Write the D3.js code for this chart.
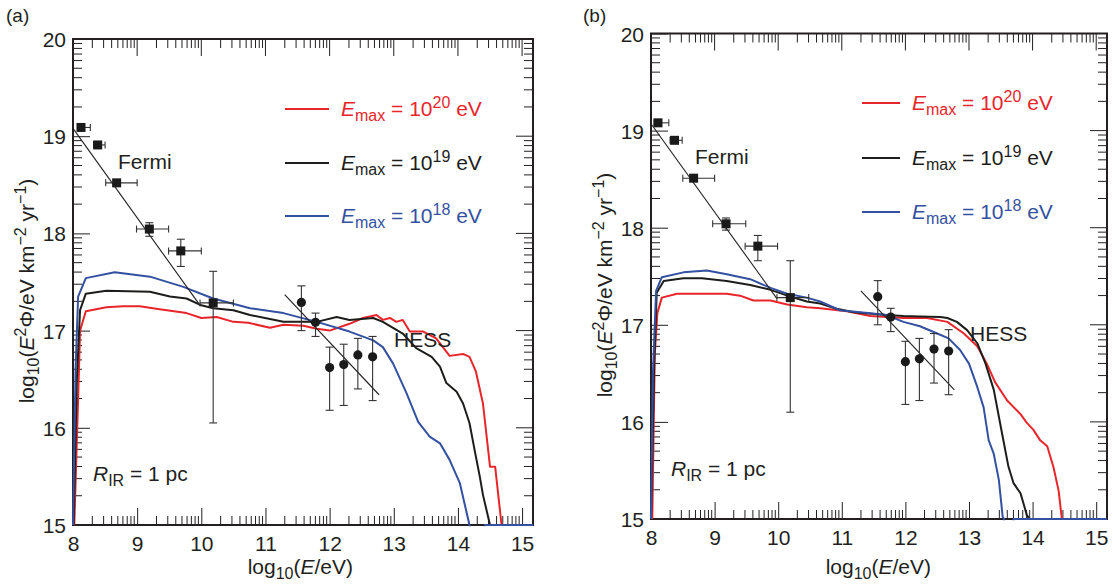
<!DOCTYPE html>
<html>
<head>
<meta charset="utf-8">
<script src="https://cdn.jsdelivr.net/npm/d3@7"></script>
<style>
  html, body { margin: 0; padding: 0; background: #fff; }
  svg text { font-family: "Liberation Sans", Arial, Helvetica, sans-serif; fill: #231f20; }
</style>
</head>
<body>
<svg id="chart" width="1113" height="585"></svg>
<script>
// ---------------- DATA ----------------
const xTicks = [8, 9, 10, 11, 12, 13, 14, 15];
const yTicks = [15, 16, 17, 18, 19, 20];
const xDomain = [8, 15.17];
const yDomain = [15, 20];
const panelLabels = ["(a)", "(b)"];
const legendExponents = ["20", "19", "18"];

// Fermi points: [x, y, xlo, xhi, ylo, yhi]
const fermiA = [
  [8.125, 19.09, 8.07, 8.27, 19.09, 19.09],
  [8.385, 18.91, 8.32, 8.50, 18.91, 18.91],
  [8.68, 18.52, 8.51, 9.00, 18.52, 18.52],
  [9.19, 18.045, 8.99, 9.49, 17.97, 18.11],
  [9.68, 17.82, 9.49, 10.00, 17.66, 17.94],
  [10.185, 17.285, 9.98, 10.50, 16.05, 17.61]
];
const fermiB = [
  [8.11, 19.08, 8.05, 8.28, 19.08, 19.08],
  [8.37, 18.90, 8.30, 8.49, 18.90, 18.90],
  [8.67, 18.51, 8.50, 9.00, 18.51, 18.51],
  [9.18, 18.04, 8.97, 9.49, 17.975, 18.10],
  [9.68, 17.81, 9.48, 9.99, 17.66, 17.92],
  [10.19, 17.28, 9.98, 10.48, 16.10, 17.66]
];
// HESS points: [x, y, ylo, yhi]
const hessA = [
  [11.56, 17.29, 17.00, 17.46],
  [11.78, 17.085, 16.94, 17.18],
  [12.00, 16.62, 16.18, 16.83],
  [12.22, 16.65, 16.23, 16.86],
  [12.44, 16.75, 16.40, 16.92],
  [12.67, 16.73, 16.28, 16.94]
];
const hessB = [
  [11.565, 17.29, 17.00, 17.455],
  [11.77, 17.08, 16.93, 17.17],
  [12.00, 16.62, 16.18, 16.83],
  [12.22, 16.65, 16.22, 16.86],
  [12.45, 16.75, 16.40, 16.91],
  [12.68, 16.73, 16.28, 16.95]
];
// power-law fit lines
const fermiLineA = [[8.0, 19.08], [9.98, 17.26]];
const fermiLineB = [[8.0, 19.07], [9.98, 17.27]];
const hessLineA = [[11.30, 17.37], [12.77, 16.34]];
const hessLineB = [[11.30, 17.35], [12.77, 16.33]];

// model curves panel (a)
const redA = [[8.02,15.0],[8.08,16.3],[8.11,17.0],[8.2,17.2],[8.52,17.24],[8.78,17.25],[9.04,17.25],[9.35,17.22],[9.77,17.18],[10.0,17.13],[10.24,17.14],[10.5,17.09],[10.73,17.08],[11.07,17.03],[11.28,17.06],[11.59,17.05],[11.80,17.02],[12.0,17.0],[12.31,17.07],[12.52,17.13],[12.73,17.16],[12.83,17.11],[12.94,17.13],[13.04,17.09],[13.14,17.11],[13.25,16.99],[13.46,16.99],[13.66,16.92],[13.87,16.74],[14.08,16.76],[14.18,16.73],[14.28,16.58],[14.39,16.25],[14.50,15.60],[14.58,15.60],[14.68,15.0]];
const blackA = [[8.01,15.0],[8.06,16.5],[8.11,17.21],[8.2,17.38],[8.52,17.41],[9.2,17.40],[9.51,17.35],[9.77,17.33],[10.0,17.26],[10.185,17.23],[10.5,17.21],[10.76,17.16],[11.28,17.09],[11.80,17.09],[12.11,17.14],[12.31,17.11],[12.68,17.13],[12.83,17.09],[13.14,16.97],[13.35,16.82],[13.59,16.73],[13.72,16.63],[13.82,16.46],[13.98,16.37],[14.08,16.25],[14.18,16.05],[14.26,15.77],[14.34,15.50],[14.39,15.31],[14.50,15.0]];
const blueA = [[8.0,15.0],[8.04,16.6],[8.08,17.35],[8.2,17.54],[8.65,17.6],[9.2,17.555],[9.72,17.45],[10.185,17.33],[10.76,17.23],[11.28,17.18],[11.80,17.09],[12.31,16.99],[12.68,16.90],[12.83,16.83],[12.99,16.66],[13.20,16.355],[13.38,16.06],[13.56,15.91],[13.72,15.84],[13.87,15.67],[14.03,15.43],[14.18,15.0],[14.30,14.0],[14.42,15.0],[15.17,15.0]];

// model curves panel (b)
const redB = [[8.02,15.0],[8.06,16.7],[8.1,17.12],[8.17,17.28],[8.41,17.32],[8.83,17.32],[9.19,17.32],[9.40,17.30],[9.61,17.25],[9.88,17.25],[10.14,17.21],[10.45,17.18],[10.66,17.17],[11.08,17.14],[11.45,17.09],[11.97,17.07],[12.34,17.07],[12.66,17.03],[12.92,16.91],[13.13,16.78],[13.28,16.60],[13.41,16.41],[13.60,16.22],[13.81,16.08],[13.91,15.99],[14.01,15.92],[14.12,15.81],[14.23,15.75],[14.33,15.53],[14.41,15.29],[14.46,15.0]];
const blackB = [[8.0,15.0],[8.05,16.6],[8.09,17.33],[8.2,17.45],[8.51,17.48],[8.80,17.48],[9.19,17.45],[9.56,17.41],[9.88,17.36],[10.19,17.29],[10.45,17.24],[10.66,17.22],[10.92,17.165],[11.19,17.13],[11.70,17.10],[11.97,17.09],[12.23,17.085],[12.55,17.08],[12.66,17.07],[12.81,17.03],[12.97,16.945],[13.13,16.81],[13.26,16.60],[13.39,16.33],[13.52,15.88],[13.62,15.54],[13.70,15.37],[13.81,15.265],[13.91,15.04],[13.95,15.0]];
const blueB = [[8.0,15.0],[8.03,16.5],[8.08,17.35],[8.17,17.49],[8.51,17.54],[8.88,17.56],[9.19,17.52],[9.56,17.47],[9.88,17.38],[10.14,17.32],[10.45,17.28],[10.66,17.24],[10.97,17.15],[11.45,17.12],[11.70,17.10],[11.97,17.03],[12.23,16.985],[12.50,16.91],[12.68,16.86],[12.86,16.74],[13.0,16.60],[13.13,16.36],[13.23,16.15],[13.31,15.81],[13.39,15.67],[13.47,15.40],[13.53,15.02],[13.55,15.0],[13.62,14.0],[13.70,15.0],[15.17,15.0]];

// ---------------- STYLE / LAYOUT ----------------
const RED = "#e8252b", BLACK = "#1d1d1b", BLUE = "#3451a1", INK = "#231f20";
const FS = 21, SFS = 16;

const panels = [
  { id: "a", left: 73, right: 533, top: 39, bottom: 525,
    fermi: fermiA, hess: hessA, fermiLine: fermiLineA, hessLine: hessLineA,
    curves: [[redA, RED], [blackA, BLACK], [blueA, BLUE]],
    label: [6, 22], legendX: [285, 329, 341], legendY: [109, 163, 216],
    fermiText: [118, 169], hessText: [394, 347], rText: [93, 481],
    yTitle: [27, 291], xTitleEnd: 353 },
  { id: "b", left: 651, right: 1107, top: 33.5, bottom: 519,
    fermi: fermiB, hess: hessB, fermiLine: fermiLineB, hessLine: hessLineB,
    curves: [[redB, RED], [blackB, BLACK], [blueB, BLUE]],
    label: [583, 22], legendX: [862, 900, 912], legendY: [103, 158, 212],
    fermiText: [695, 164], hessText: [970, 341], rText: [671, 476],
    yTitle: [605, 285], xTitleEnd: 931 }
];

const svg = d3.select("#chart");

function minorVals(lo, hi) {
  const out = [];
  for (let n = Math.floor(lo); n < hi; n++) {
    for (let k = 2; k <= 9; k++) {
      const v = n + Math.log10(k);
      if (v > lo && v < hi) out.push(v);
    }
  }
  return out;
}

panels.forEach((p, pi) => {
  const x = d3.scaleLinear().domain(xDomain).range([p.left, p.right]);
  const y = d3.scaleLinear().domain(yDomain).range([p.bottom, p.top]);
  const g = svg.append("g");
  const clipId = "clip" + p.id;
  svg.append("clipPath").attr("id", clipId).append("rect")
    .attr("x", p.left - 1).attr("y", p.top)
    .attr("width", p.right - p.left + 1).attr("height", p.bottom - p.top + 1.2);

  const xMinor = minorVals(xDomain[0], xDomain[1]);
  const yMinor = minorVals(yDomain[0], yDomain[1]);
  const MAJ = 17, MIN = 9;
  const tickG = g.append("g").attr("stroke", INK).attr("stroke-width", 1);

  // Bottom axis (d3 axis, ticks inward)
  const bottomAxis = d3.axisBottom(x).tickValues(xTicks).tickSizeInner(-MAJ).tickSizeOuter(0)
    .tickFormat(d3.format("d"));
  const ba = g.append("g").attr("transform", `translate(0,${p.bottom})`).call(bottomAxis);
  ba.select(".domain").remove();
  ba.selectAll("line").attr("stroke", INK);
  ba.selectAll("text").attr("y", 11).attr("dy", "0.71em").style("font-size", FS + "px")
    .style("font-family", '"Liberation Sans", Arial, sans-serif').attr("fill", INK);

  // Left axis
  const leftAxis = d3.axisLeft(y).tickValues(yTicks).tickSizeInner(-MAJ).tickSizeOuter(0)
    .tickFormat(d3.format("d"));
  const la = g.append("g").attr("transform", `translate(${p.left},0)`).call(leftAxis);
  la.select(".domain").remove();
  la.selectAll("line").attr("stroke", INK);
  la.selectAll("text").attr("x", -7).attr("dy", "0.36em").style("font-size", FS + "px")
    .style("font-family", '"Liberation Sans", Arial, sans-serif').attr("fill", INK);

  // top & right major ticks
  xTicks.filter(v => v > xDomain[0] && v < xDomain[1]).forEach(v => {
    tickG.append("line").attr("x1", x(v)).attr("x2", x(v)).attr("y1", p.top).attr("y2", p.top + MAJ);
  });
  yTicks.filter(v => v > yDomain[0] && v < yDomain[1]).forEach(v => {
    tickG.append("line").attr("y1", y(v)).attr("y2", y(v)).attr("x1", p.right).attr("x2", p.right - MAJ);
  });
  // minor ticks on all four sides
  xMinor.forEach(v => {
    tickG.append("line").attr("x1", x(v)).attr("x2", x(v)).attr("y1", p.bottom).attr("y2", p.bottom - MIN);
    tickG.append("line").attr("x1", x(v)).attr("x2", x(v)).attr("y1", p.top).attr("y2", p.top + MIN);
  });
  yMinor.forEach(v => {
    tickG.append("line").attr("y1", y(v)).attr("y2", y(v)).attr("x1", p.left).attr("x2", p.left + MIN);
    tickG.append("line").attr("y1", y(v)).attr("y2", y(v)).attr("x1", p.right).attr("x2", p.right - MIN);
  });

  // Frame
  g.append("rect").attr("x", p.left).attr("y", p.top)
    .attr("width", p.right - p.left).attr("height", p.bottom - p.top)
    .attr("fill", "none").attr("stroke", INK).attr("stroke-width", 2);

  // Curves (drawn over the frame, as in the original)
  const line = d3.line().x(d => x(d[0])).y(d => y(d[1]));
  const cg = g.append("g").attr("clip-path", `url(#${clipId})`);
  p.curves.forEach(([data, col]) => {
    cg.append("path").datum(data).attr("d", line).attr("fill", "none")
      .attr("stroke", col).attr("stroke-width", 2).attr("stroke-linejoin", "round");
  });

  // Fit lines
  [p.fermiLine, p.hessLine].forEach(d => {
    g.append("path").datum(d).attr("d", line).attr("fill", "none")
      .attr("stroke", INK).attr("stroke-width", 1.1);
  });

  // Error bars
  const eg = g.append("g").attr("stroke", "#333").attr("stroke-width", 1.1).attr("fill", "none");
  const cap = 4, capx = 3.5;
  p.fermi.forEach(d => {
    const [vx, vy, xlo, xhi, ylo, yhi] = d;
    eg.append("line").attr("x1", x(xlo)).attr("x2", x(xhi)).attr("y1", y(vy)).attr("y2", y(vy));
    eg.append("line").attr("x1", x(xlo)).attr("x2", x(xlo)).attr("y1", y(vy) - capx).attr("y2", y(vy) + capx);
    eg.append("line").attr("x1", x(xhi)).attr("x2", x(xhi)).attr("y1", y(vy) - capx).attr("y2", y(vy) + capx);
    if (yhi - ylo > 0.01) {
      eg.append("line").attr("x1", x(vx)).attr("x2", x(vx)).attr("y1", y(ylo)).attr("y2", y(yhi));
      eg.append("line").attr("x1", x(vx) - cap).attr("x2", x(vx) + cap).attr("y1", y(ylo)).attr("y2", y(ylo));
      eg.append("line").attr("x1", x(vx) - cap).attr("x2", x(vx) + cap).attr("y1", y(yhi)).attr("y2", y(yhi));
    }
  });
  p.hess.forEach(d => {
    const [vx, vy, ylo, yhi] = d;
    eg.append("line").attr("x1", x(vx)).attr("x2", x(vx)).attr("y1", y(ylo)).attr("y2", y(yhi));
    eg.append("line").attr("x1", x(vx) - cap).attr("x2", x(vx) + cap).attr("y1", y(ylo)).attr("y2", y(ylo));
    eg.append("line").attr("x1", x(vx) - cap).attr("x2", x(vx) + cap).attr("y1", y(yhi)).attr("y2", y(yhi));
  });
  // Markers
  const S = 9;
  g.append("g").selectAll("rect").data(p.fermi).join("rect")
    .attr("x", d => x(d[0]) - S / 2).attr("y", d => y(d[1]) - S / 2)
    .attr("width", S).attr("height", S).attr("fill", "#1a1a1a");
  g.append("g").selectAll("circle").data(p.hess).join("circle")
    .attr("cx", d => x(d[0])).attr("cy", d => y(d[1])).attr("r", 4.6).attr("fill", "#1a1a1a");

  // Legend
  [RED, BLACK, BLUE].forEach((col, i) => {
    const ly = p.legendY[i];
    g.append("line").attr("x1", p.legendX[0]).attr("x2", p.legendX[1]).attr("y1", ly).attr("y2", ly)
      .attr("stroke", col).attr("stroke-width", 2);
    const t = g.append("text").attr("x", p.legendX[2]).attr("y", ly + 7).style("font-size", FS + "px")
      .style("fill", col);
    t.append("tspan").attr("font-style", "italic").text("E");
    t.append("tspan").attr("dy", 5).style("font-size", SFS + "px").text("max");
    t.append("tspan").attr("dy", -5).text(" = 10");
    t.append("tspan").attr("dy", -8).style("font-size", SFS + "px").text(legendExponents[i]);
    t.append("tspan").attr("dy", 8).text(" eV");
  });

  // Annotations
  g.append("text").attr("x", p.fermiText[0]).attr("y", p.fermiText[1]).style("font-size", FS + "px").text("Fermi");
  g.append("text").attr("x", p.hessText[0]).attr("y", p.hessText[1]).style("font-size", FS + "px").text("HESS");
  const rt = g.append("text").attr("x", p.rText[0]).attr("y", p.rText[1]).style("font-size", FS + "px");
  rt.append("tspan").attr("font-style", "italic").text("R");
  rt.append("tspan").attr("dy", 5).style("font-size", SFS + "px").text("IR");
  rt.append("tspan").attr("dy", -5).text(" = 1 pc");

  // Panel label
  g.append("text").attr("x", p.label[0]).attr("y", p.label[1]).style("font-size", "19px").text(panelLabels[pi]);

  // X title
  const xt = g.append("text").attr("x", p.xTitleEnd).attr("y", 574).attr("text-anchor", "end")
    .style("font-size", FS + "px");
  xt.append("tspan").text("log");
  xt.append("tspan").attr("dy", 5).style("font-size", SFS + "px").text("10");
  xt.append("tspan").attr("dy", -5).text("(");
  xt.append("tspan").attr("font-style", "italic").text("E");
  xt.append("tspan").text("/eV)");

  // Y title
  const yt = g.append("text").attr("transform", `translate(${p.yTitle[0] + 7},${p.yTitle[1]}) rotate(-90)`)
    .attr("text-anchor", "middle").style("font-size", FS + "px");
  yt.append("tspan").text("log");
  yt.append("tspan").attr("dy", 5).style("font-size", SFS + "px").text("10");
  yt.append("tspan").attr("dy", -5).text("(");
  yt.append("tspan").attr("font-style", "italic").text("E");
  yt.append("tspan").attr("dy", -8).style("font-size", SFS + "px").text("2");
  yt.append("tspan").attr("dy", 8).text("Φ/eV km");
  yt.append("tspan").attr("dy", -8).style("font-size", SFS + "px").text("−2");
  yt.append("tspan").attr("dy", 8).text(" yr");
  yt.append("tspan").attr("dy", -8).style("font-size", SFS + "px").text("−1");
  yt.append("tspan").attr("dy", 8).text(")");
});
</script>
</body>
</html>
